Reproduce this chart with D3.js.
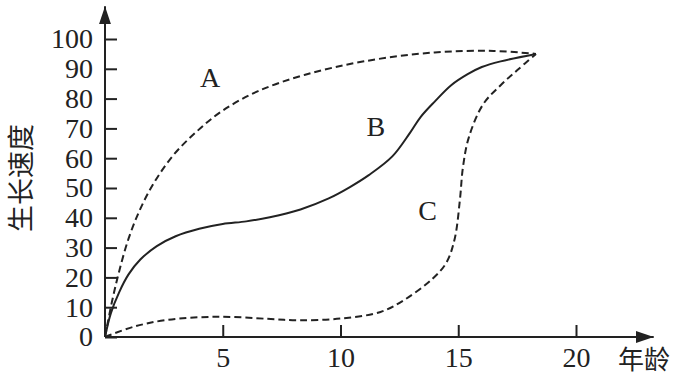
<!DOCTYPE html>
<html>
<head>
<meta charset="utf-8">
<script src="https://cdn.jsdelivr.net/npm/d3@7"></script>
<style>
  body { margin: 0; background: #fff; }
  svg { display: block; }
  .tick text { font-family: "Liberation Serif", serif; font-size: 28px; fill: #222; }
  .tick line { stroke: #222; stroke-width: 2; }
  .curve { fill: none; stroke: #222; stroke-width: 2; }
  .dashed { stroke-dasharray: 7 4; }
</style>
</head>
<body>
<svg width="676" height="376"></svg>
<script>
  // [年龄, 生长速度]
  const curveA = [[0,0],[0.3,12],[0.6,22],[1.0,33],[1.5,43],[2.1,52],[2.9,61],[3.9,69],[5.0,76],[6.5,82.5],[8.5,88],[11,92.5],[14,95.5],[16.5,96],[18.3,95]];
  const curveB = [[0,0],[0.25,8],[0.6,15],[1.0,21],[1.5,26],[2.2,30.5],[3.0,33.8],[4.0,36.3],[5.0,37.9],[6.0,38.8],[7.0,40.2],[8.3,42.8],[9.5,46.5],[10.4,50.3],[11.2,54.3],[12.2,60.6],[12.95,68.5],[13.4,73.8],[14.0,79],[14.7,84.5],[15.4,88.2],[16.0,90.6],[16.8,92.5],[18.3,95]];
  const curveC = [[0,0],[1.2,3.4],[2.6,5.7],[4.75,6.8],[6.9,6.1],[8.2,5.6],[10,6.2],[11.7,8.4],[12.7,12.4],[13.9,19.5],[14.5,25],[14.85,33],[15.07,46],[15.2,57],[15.45,67],[16.05,78],[16.8,84.5],[17.5,89.5],[18.3,95]];
  const xTicks = [5, 10, 15, 20];
  const yTicks = [0, 10, 20, 30, 40, 50, 60, 70, 80, 90, 100];
  const labels = [['A', 4.46, 87], ['B', 11.5, 70.5], ['C', 13.7, 42.6]];

  const svg = d3.select('svg');

  const x = d3.scaleLinear().domain([0, 20]).range([105, 576]);
  const y = d3.scaleLinear().domain([0, 100]).range([337, 39]);

  const defs = svg.append('defs');
  defs.append('marker')
    .attr('id', 'arrow')
    .attr('viewBox', '0 0 18 12')
    .attr('refX', 18).attr('refY', 6)
    .attr('markerWidth', 18).attr('markerHeight', 12)
    .attr('markerUnits', 'userSpaceOnUse')
    .attr('orient', 'auto')
    .append('path')
      .attr('d', 'M0,0 L18,6 L0,12 Z')
      .attr('fill', '#222');

  // axes lines with arrows
  svg.append('line')
    .attr('x1', x(0)).attr('y1', y(0))
    .attr('x2', x(0)).attr('y2', y(111))
    .attr('stroke', '#222').attr('stroke-width', 2)
    .attr('marker-end', 'url(#arrow)');
  svg.append('line')
    .attr('x1', x(0)).attr('y1', y(0))
    .attr('x2', x(23.3)).attr('y2', y(0))
    .attr('stroke', '#222').attr('stroke-width', 2)
    .attr('marker-end', 'url(#arrow)');

  const yAxis = svg.append('g')
    .attr('transform', `translate(${x(0)},0)`)
    .call(d3.axisLeft(y).tickValues(yTicks).tickSize(-12).tickPadding(12));
  yAxis.select('.domain').remove();

  const xAxis = svg.append('g')
    .attr('transform', `translate(0,${y(0)})`)
    .call(d3.axisBottom(x).tickValues(xTicks).tickSize(-12).tickPadding(10));
  xAxis.select('.domain').remove();

  const line = d3.line()
    .x(d => x(d[0]))
    .y(d => y(d[1]))
    .curve(d3.curveCatmullRom.alpha(0.5));

  svg.append('path').datum(curveA).attr('class', 'curve dashed').attr('d', line);
  svg.append('path').datum(curveB).attr('class', 'curve').attr('d', line);
  svg.append('path').datum(curveC).attr('class', 'curve dashed').attr('d', line);

  svg.selectAll('.lbl').data(labels)
    .enter().append('text')
      .attr('class', 'lbl')
      .attr('x', d => x(d[1]))
      .attr('y', d => y(d[2]))
      .attr('text-anchor', 'middle')
      .attr('dominant-baseline', 'central')
      .attr('font-family', '"Liberation Serif", serif')
      .attr('font-size', 28)
      .attr('fill', '#222')
      .text(d => d[0]);

  svg.append('text')
    .attr('transform', 'translate(31,178) rotate(-90)')
    .attr('text-anchor', 'middle')
    .attr('font-family', '"Noto Sans CJK SC", sans-serif')
    .attr('font-size', 27)
    .attr('fill', '#222')
    .text('生长速度');

  svg.append('text')
    .attr('x', 618).attr('y', 369)
    .attr('font-family', '"Noto Sans CJK SC", sans-serif')
    .attr('font-size', 26)
    .attr('fill', '#222')
    .text('年龄');
</script>
</body>
</html>
